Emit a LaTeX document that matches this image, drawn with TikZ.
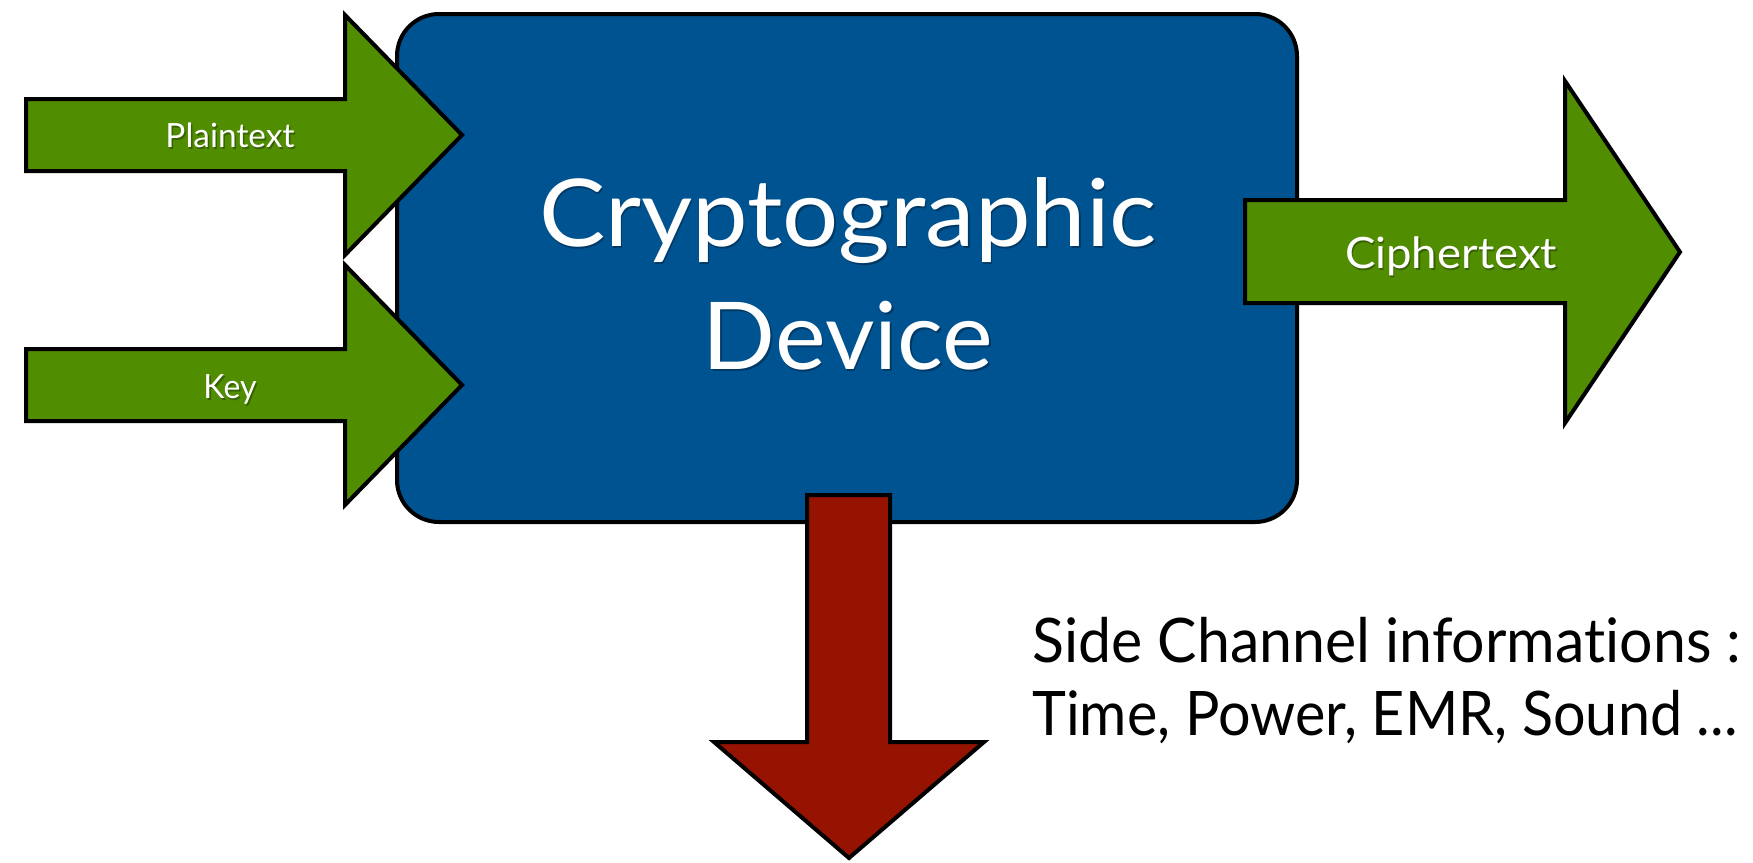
\documentclass[tikz,border=0pt]{standalone}
\usepackage{fontspec}
\setmainfont[Ligatures=NoCommon]{Lato}
\usetikzlibrary{calc}

\definecolor{devblue}{RGB}{0,83,145}
\definecolor{flowgreen}{RGB}{80,141,0}
\definecolor{leakred}{RGB}{149,19,0}

\tikzset{
  outlined/.style={draw=black, line width=2pt, line join=miter},
  greenarrow/.style={outlined, fill=flowgreen},
  redarrow/.style={outlined, fill=leakred},
  devicebox/.style={outlined, fill=devblue, rounded corners=21pt},
  lighttext/.style={text=white, inner sep=0pt},
  shadetext/.style={text=black, opacity=0.3, inner sep=0pt},
  darktext/.style={text=black, inner sep=0pt},
}

% white label with a soft drop shade underneath
\newcommand{\shadedlabel}[3]{%
  \node[shadetext, anchor=base] (#1-shade) at ($(#2)+(1.5,2)$) {#3};
  \node[lighttext, anchor=base] (#1) at (#2) {#3};
}
% set a text to a given width, keeping its height
\newcommand{\fitwidth}[2]{\resizebox{#1}{\height}{#2}}

\begin{document}
\begin{tikzpicture}[x=0.5pt, y=-0.5pt]
  \useasboundingbox (0,0) rectangle (1753,863);

  % the device
  \draw[devicebox] (397,14) rectangle (1297,522);

  % inputs
  \draw[greenarrow] (26,99) -- (345,99) -- (345,15) -- (462,135)
      -- (345,255) -- (345,171) -- (26,171) -- cycle;
  \draw[greenarrow] (26,349) -- (345,349) -- (345,265) -- (462,385)
      -- (345,505) -- (345,421) -- (26,421) -- cycle;

  % output
  \draw[greenarrow] (1245,200) -- (1565,200) -- (1565,81) -- (1680,252)
      -- (1565,423) -- (1565,303) -- (1245,303) -- cycle;

  % leakage
  \draw[redarrow] (807,495) -- (890,495) -- (890,742) -- (984,742)
      -- (849,858) -- (714,742) -- (807,742) -- cycle;

  % labels
  \coordinate (ptpos) at (230,147);
  \coordinate (keypos) at (230,398);
  \coordinate (ctpos) at (1451,268);
  \coordinate (l1pos) at (848,246);
  \coordinate (l2pos) at (848,369);

  \shadedlabel{plain}{ptpos}{\fontsize{16.7}{20}\selectfont\fitwidth{64.5pt}{Plaintext}}
  \shadedlabel{key}{keypos}{\fontsize{16.7}{20}\selectfont\fitwidth{26.5pt}{Key}}
  \shadedlabel{cipher}{ctpos}{\fontsize{21.6}{26}\selectfont\fitwidth{106pt}{Ciphertext}}
  \shadedlabel{title1}{l1pos}{\fontsize{46.8}{56}\selectfont\fitwidth{309pt}{Cryptographic}}
  \shadedlabel{title2}{l2pos}{\fontsize{46.8}{56}\selectfont\fitwidth{145pt}{Device}}

  \node[darktext, anchor=base west] (side1) at (1032,662)
      {\fontsize{30.7}{36}\selectfont\fitwidth{354.5pt}{Side Channel informations :}};
  \node[darktext, anchor=base west] (side2) at (1032,735)
      {\fontsize{30.7}{36}\selectfont\fitwidth{352.5pt}{Time, Power, EMR, Sound ...}};
\end{tikzpicture}
\end{document}
